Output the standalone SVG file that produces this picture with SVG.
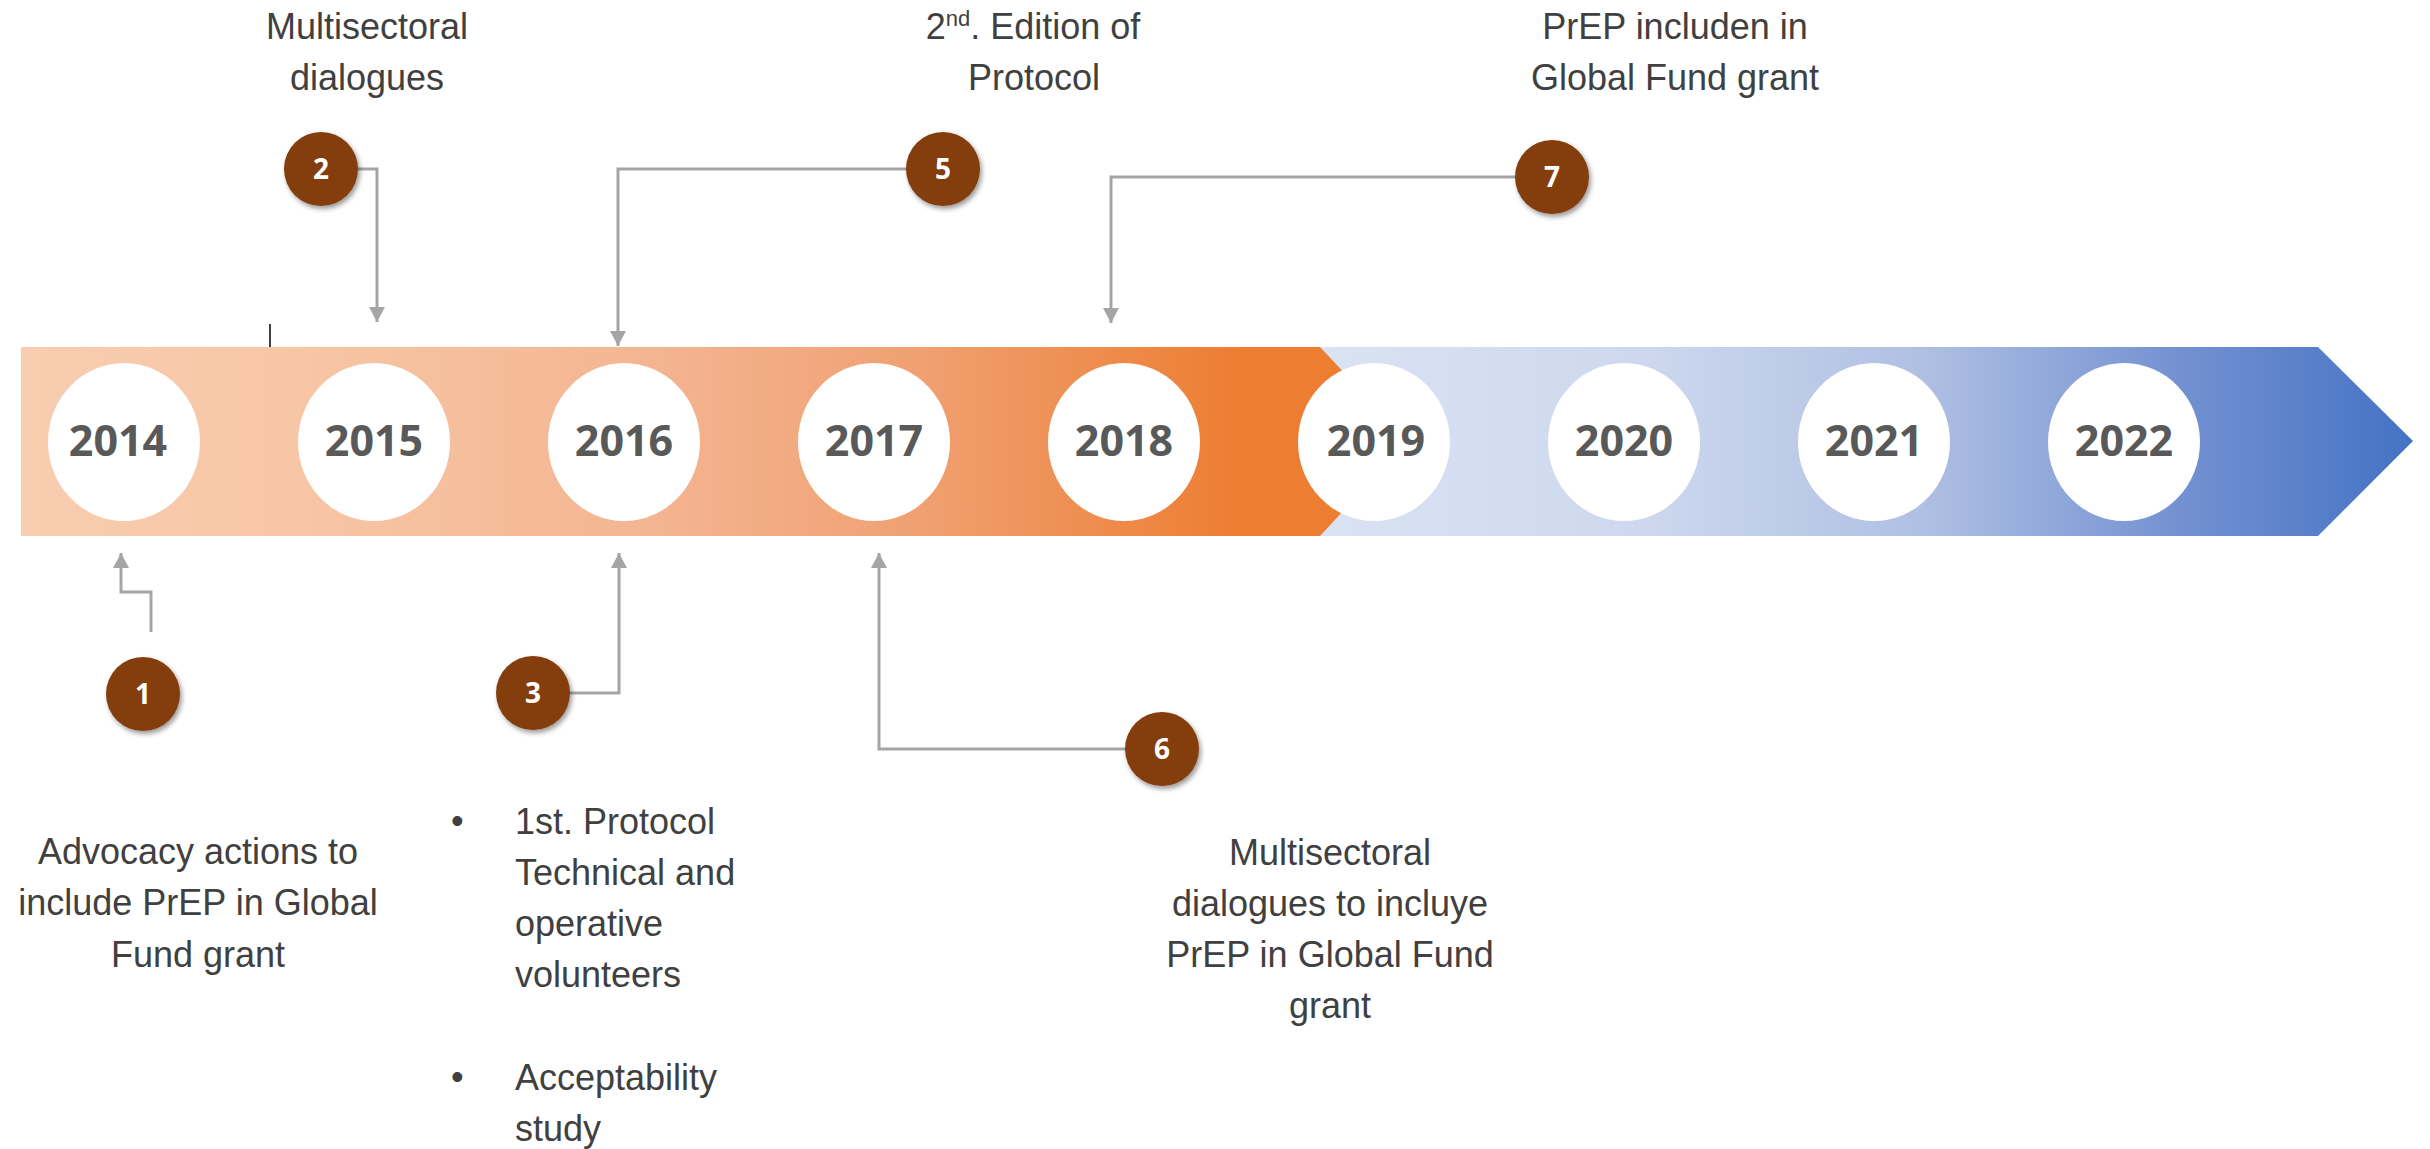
<svg xmlns="http://www.w3.org/2000/svg" width="2430" height="1149" viewBox="0 0 2430 1149">
<style>
.lbl{font-family:"Liberation Sans",Arial,sans-serif;font-size:36px;fill:#404040;text-anchor:middle}
.lbll{font-family:"Liberation Sans",Arial,sans-serif;font-size:36px;fill:#404040}
.yr{font-family:"Open Sans","DejaVu Sans",sans-serif;font-size:43px;font-weight:bold;fill:#595959;text-anchor:middle}
.yc{fill:#ffffff}
.badge{fill:#843C0C;filter:url(#sh)}
.num{font-family:"Open Sans","DejaVu Sans",sans-serif;font-size:28px;font-weight:bold;fill:#ffffff;text-anchor:middle}
.con{fill:none;stroke:#A5A5A5;stroke-width:3;marker-end:url(#ah)}
</style>
<defs>
<linearGradient id="og" gradientUnits="userSpaceOnUse" x1="21" y1="0" x2="1408" y2="0">
<stop offset="0" stop-color="#F8CDB0"/>
<stop offset="0.2" stop-color="#F7C6A5"/>
<stop offset="0.45" stop-color="#F4B592"/>
<stop offset="0.65" stop-color="#F0A071"/>
<stop offset="0.88" stop-color="#ED7D31"/>
<stop offset="1" stop-color="#ED7D31"/>
</linearGradient>
<linearGradient id="bg" gradientUnits="userSpaceOnUse" x1="1320" y1="0" x2="2413" y2="0">
<stop offset="0" stop-color="#DAE3F3"/>
<stop offset="0.3" stop-color="#CDD8EE"/>
<stop offset="0.55" stop-color="#B0C0E3"/>
<stop offset="0.78" stop-color="#7592D2"/>
<stop offset="1" stop-color="#4472C4"/>
</linearGradient>
<filter id="sh" x="-30%" y="-30%" width="170%" height="170%">
<feDropShadow dx="2" dy="3" stdDeviation="2.5" flood-color="#000" flood-opacity="0.4"/>
</filter>
<marker id="ah" markerWidth="16" markerHeight="16" viewBox="0 0 16 16" refX="15" refY="8" orient="auto" markerUnits="userSpaceOnUse">
<path d="M0,0 L15,8 L0,16 Z" fill="#A5A5A5"/>
</marker>
</defs>

<g id="timeline-bar">
<polygon points="1320,347 2318,347 2413,441 2318,536 1320,536" fill="url(#bg)"/>
<polygon points="21,347 1320,347 1408,441 1320,536 21,536" fill="url(#og)"/>
<line x1="270" y1="324" x2="270" y2="347" stroke="#404040" stroke-width="2"/>
</g>

<g id="year-2014"><ellipse class="yc" cx="124" cy="442" rx="76" ry="79"/><text class="yr" x="118" y="456">2014</text></g>
<g id="year-2015"><ellipse class="yc" cx="374" cy="442" rx="76" ry="79"/><text class="yr" x="374" y="456">2015</text></g>
<g id="year-2016"><ellipse class="yc" cx="624" cy="442" rx="76" ry="79"/><text class="yr" x="624" y="456">2016</text></g>
<g id="year-2017"><ellipse class="yc" cx="874" cy="442" rx="76" ry="79"/><text class="yr" x="874" y="456">2017</text></g>
<g id="year-2018"><ellipse class="yc" cx="1124" cy="442" rx="76" ry="79"/><text class="yr" x="1124" y="456">2018</text></g>
<g id="year-2019"><ellipse class="yc" cx="1374" cy="442" rx="76" ry="79"/><text class="yr" x="1376" y="456">2019</text></g>
<g id="year-2020"><ellipse class="yc" cx="1624" cy="442" rx="76" ry="79"/><text class="yr" x="1624" y="456">2020</text></g>
<g id="year-2021"><ellipse class="yc" cx="1874" cy="442" rx="76" ry="79"/><text class="yr" x="1874" y="456">2021</text></g>
<g id="year-2022"><ellipse class="yc" cx="2124" cy="442" rx="76" ry="79"/><text class="yr" x="2124" y="456">2022</text></g>

<g id="connectors">
<path class="con" d="M151,632 V592 H121 V553"/>
<path class="con" d="M358,169 H377 V322"/>
<path class="con" d="M570,693 H619 V553"/>
<path class="con" d="M906,169 H618 V346"/>
<path class="con" d="M1125,749 H879 V553"/>
<path class="con" d="M1515,177 H1111 V323"/>
</g>

<g id="event-1"><circle class="badge" cx="143" cy="694" r="37"/><text class="num" x="143" y="704">1</text></g>
<g id="event-2"><circle class="badge" cx="321" cy="169" r="37"/><text class="num" x="321" y="179">2</text></g>
<g id="event-3"><circle class="badge" cx="533" cy="693" r="37"/><text class="num" x="533" y="703">3</text></g>
<g id="event-5"><circle class="badge" cx="943" cy="169" r="37"/><text class="num" x="943" y="179">5</text></g>
<g id="event-6"><circle class="badge" cx="1162" cy="749" r="37"/><text class="num" x="1162" y="759">6</text></g>
<g id="event-7"><circle class="badge" cx="1552" cy="177" r="37"/><text class="num" x="1552" y="187">7</text></g>

<g id="label-2">
<text class="lbl" x="367" y="39">Multisectoral</text>
<text class="lbl" x="367" y="90">dialogues</text>
</g>
<g id="label-5">
<text class="lbl" x="1033" y="39">2<tspan font-size="22" dy="-13">nd</tspan><tspan dy="13">. Edition of</tspan></text>
<text class="lbl" x="1034" y="90">Protocol</text>
</g>
<g id="label-7">
<text class="lbl" x="1675" y="39">PrEP includen in</text>
<text class="lbl" x="1675" y="90">Global Fund grant</text>
</g>
<g id="label-1">
<text class="lbl" x="198" y="864">Advocacy actions to</text>
<text class="lbl" x="198" y="915">include PrEP in Global</text>
<text class="lbl" x="198" y="967">Fund grant</text>
</g>
<g id="label-3">
<text class="lbll" x="451" y="833">•</text>
<text class="lbll" x="515" y="834">1st. Protocol</text>
<text class="lbll" x="515" y="885">Technical and</text>
<text class="lbll" x="515" y="936">operative</text>
<text class="lbll" x="515" y="987">volunteers</text>
<text class="lbll" x="451" y="1089">•</text>
<text class="lbll" x="515" y="1090">Acceptability</text>
<text class="lbll" x="515" y="1141">study</text>
</g>
<g id="label-6">
<text class="lbl" x="1330" y="865">Multisectoral</text>
<text class="lbl" x="1330" y="916">dialogues to incluye</text>
<text class="lbl" x="1330" y="967">PrEP in Global Fund</text>
<text class="lbl" x="1330" y="1018">grant</text>
</g>
</svg>
